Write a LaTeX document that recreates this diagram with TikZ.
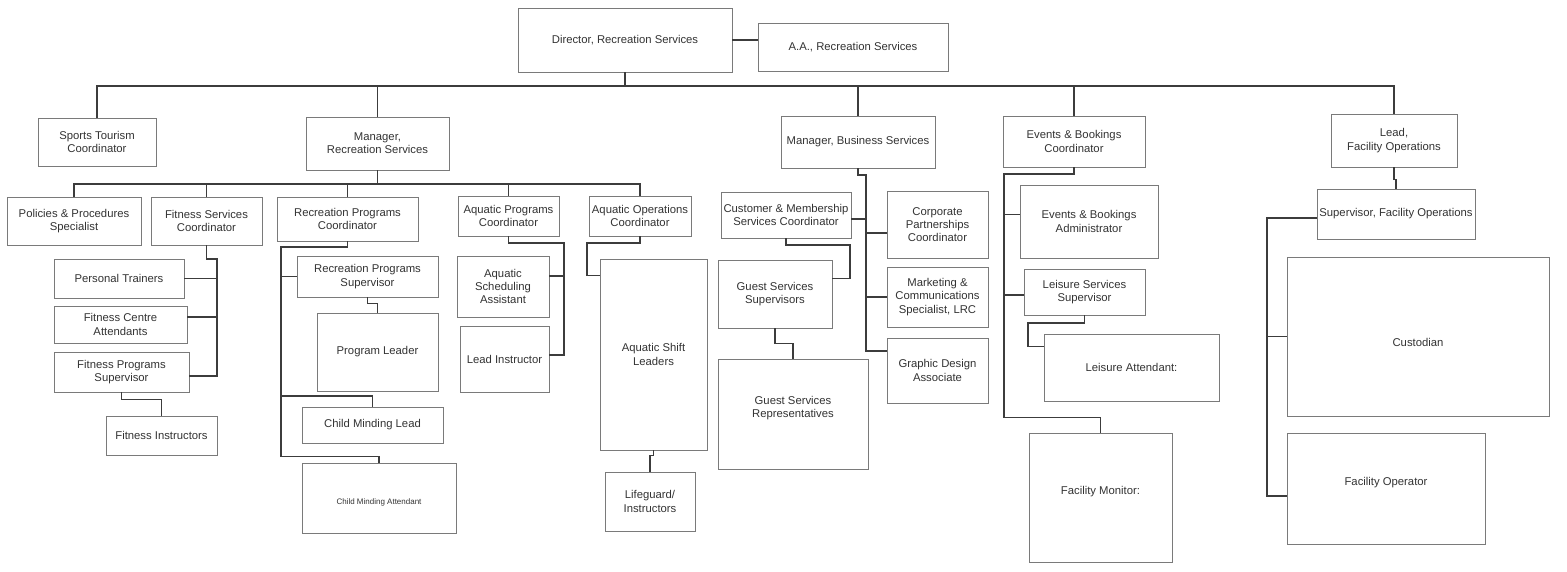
\documentclass[tikz,border=0pt]{standalone}
\usepackage{fontspec}
\setmainfont{Liberation Sans}
\usetikzlibrary{calc}

\definecolor{wirec}{HTML}{3C3C3C}
\definecolor{framec}{HTML}{7A7A7A}
\definecolor{inkc}{HTML}{333333}

\tikzset{
  box/.style={draw=framec, line width=0.9pt, fill=white, inner sep=0pt,
    align=center, text=inkc, font=\fontsize{11.3}{13.3}\selectfont},
  wire/.style={draw=wirec, line width=1.3pt, line cap=rect},
  tinytext/.style={font=\fontsize{8}{9.5}\selectfont}
}

% \orgbox[options]{name}{x1}{y1}{x2}{y2}{text}  -- box given by its corners
\newcommand\orgbox[7][]{%
  \node[box, minimum width={#5pt-#3pt}, minimum height={#6pt-#4pt}, #1]
    (#2) at ({(#3+#5)/2},{(#4+#6)/2}) {#7};}

\begin{document}
\begin{tikzpicture}[x=1pt, y=-1pt]
\useasboundingbox[fill=white] (0,0) rectangle (1567,572);

% ---------- top levels ----------
\orgbox{dir}{518}{8}{732}{72}{Director, Recreation Services}
\orgbox{aa}{758}{23}{948}{71}{A.A., Recreation Services}

\orgbox{sports}{38}{118}{156}{166}{Sports Tourism\\Coordinator}
\orgbox{mgrrec}{306}{117}{449}{170}{Manager,\\Recreation Services}
\orgbox{mgrbus}{781}{116}{935}{168}{Manager, Business Services}
\orgbox{evc}{1003}{116}{1145}{167}{Events \& Bookings\\Coordinator}
\orgbox{lead}{1331}{114}{1457}{167}{Lead,\\Facility Operations}

% ---------- recreation services ----------
\orgbox{pps}{7}{197}{141}{245}{Policies \& Procedures\\Specialist}
\orgbox{fsc}{151}{197}{262}{245}{Fitness Services\\Coordinator}
\orgbox{rpc}{277}{197}{418}{241}{Recreation Programs\\Coordinator}
\orgbox{apc}{458}{196}{559}{236}{Aquatic Programs\\Coordinator}
\orgbox{aoc}{589}{196}{691}{236}{Aquatic Operations\\Coordinator}

\orgbox{ptr}{54}{259}{184}{298}{Personal Trainers}
\orgbox{fca}{54}{306}{187}{343}{Fitness Centre\\Attendants}
\orgbox{fps}{54}{352}{189}{392}{Fitness Programs\\Supervisor}
\orgbox{fin}{106}{416}{217}{455}{Fitness Instructors}

\orgbox{rps}{297}{256}{438}{297}{Recreation Programs\\Supervisor}
\orgbox{pl}{317}{313}{438}{391}{Program Leader}
\orgbox{cml}{302}{407}{443}{443}{Child Minding Lead}
\orgbox[tinytext, text height=13pt, text depth=0pt]{cma}{302}{463}{456}{533}{Child Minding Attendant}

\orgbox{asa}{457}{256}{549}{317}{Aquatic\\Scheduling\\Assistant}
\orgbox{li}{460}{326}{549}{392}{Lead Instructor}

\orgbox{asl}{600}{259}{707}{450}{Aquatic Shift\\Leaders}
\orgbox{lg}{605}{472}{695}{531}{Lifeguard/\\Instructors}

% ---------- business services ----------
\orgbox{cmsc}{721}{192}{851}{238}{Customer \& Membership\\Services Coordinator}
\orgbox{gss}{718}{260}{832}{328}{Guest Services\\Supervisors}
\orgbox[text height=8pt, text depth=0.3pt]{gsr}{718}{359}{868}{469}{Guest Services\\Representatives}

\orgbox{cpc}{887}{191}{988}{258}{Corporate\\Partnerships\\Coordinator}
\orgbox{mcs}{887}{267}{988}{327}{Marketing \&\\Communications\\Specialist, LRC}
\orgbox{gda}{887}{338}{988}{403}{Graphic Design\\Associate}

% ---------- events & bookings ----------
\orgbox{eba}{1020}{185}{1158}{258}{Events \& Bookings\\Administrator}
\orgbox{lss}{1024}{269}{1145}{315}{Leisure Services\\Supervisor}
\orgbox{la}{1044}{334}{1219}{401}{Leisure Attendant:}
\orgbox[text height=8pt, text depth=14pt]{fm}{1029}{433}{1172}{562}{Facility Monitor:}

% ---------- facility operations ----------
\orgbox{sfo}{1317}{189}{1475}{239}{Supervisor, Facility Operations}
\orgbox[text height=20pt, text depth=0pt]{cus}{1287}{257}{1549}{416}{Custodian}
\orgbox[text height=8pt, text depth=14pt]{fop}{1287}{433}{1485}{544}{Facility Operator}

% ---------- director level ----------
\draw[wire] (dir.east) -- (dir.east -| aa.west);
\coordinate (topbus) at (0,86);
\draw[wire] (sports.north) |- (lead.north |- topbus) -- (lead.north);
\draw[wire] (dir.south) -- (dir.south |- topbus);
\draw[wire] (mgrrec.north) -- (mgrrec.north |- topbus);
\draw[wire] (mgrbus.north) -- (mgrbus.north |- topbus);
\draw[wire] (evc.north) -- (evc.north |- topbus);

% ---------- manager, recreation services ----------
\coordinate (recbus) at (0,184);
\draw[wire] (pps.north) |- (aoc.north |- recbus) -- (aoc.north);
\draw[wire] (mgrrec.south) -- (mgrrec.south |- recbus);
\draw[wire] (fsc.north) -- (fsc.north |- recbus);
\draw[wire] (rpc.north) -- (rpc.north |- recbus);
\draw[wire] (apc.north) -- (apc.north |- recbus);

% fitness services
\coordinate (fsp) at (217,259);
\path ([yshift=-4pt]fps.east) coordinate (fps-e);
\path ([yshift=7.5pt]fca.east) coordinate (fca-e);
\draw[wire] (fsc.south) |- (fsp) |- (fps-e);
\draw[wire] (ptr.east) -- (ptr.east -| fsp);
\draw[wire] (fca-e) -- (fca-e -| fsp);
\draw[wire] (fps.south) -- ++(0,7) -| (fin.north);

% recreation programs
\coordinate (rsp) at (281,247);
\draw[wire] (rpc.south) |- (rsp) |- ($(cma.north)+(0,-6)$) -- (cma.north);
\draw[wire] (rps.west) -- (rps.west -| rsp);
\draw[wire] (rps.south) -- ++(0,6) -| (pl.north);
\draw[wire] (rsp |- 0,396) -| (cml.north);

% aquatic programs
\coordinate (asp) at (564,243);
\path ([yshift=4pt]li.east) coordinate (li-e);
\path ([yshift=10.5pt]asa.east) coordinate (asa-e);
\draw[wire] (apc.south) |- (asp) |- (li-e);
\draw[wire] (asa-e) -- (asa-e -| asp);

% aquatic operations
\coordinate (osp) at (587,243);
\path ([yshift=-17pt]asl.north west) coordinate (asl-w);
\draw[wire] (aoc.south) |- (osp) |- (asl-w);
\draw[wire] (asl.south) -- ++(0,5) -| (lg.north);

% ---------- manager, business services ----------
\coordinate (bsp) at (866,175);
\path ([yshift=19.5pt]gda.west) coordinate (gda-w);
\path ([yshift=-4pt]cmsc.east) coordinate (cmsc-e);
\path ([yshift=-8.5pt]cpc.west) coordinate (cpc-w);
\draw[wire] (mgrbus.south) |- (bsp) |- (gda-w);
\draw[wire] (cmsc-e) -- (cmsc-e -| bsp);
\draw[wire] (cpc-w) -- (cpc-w -| bsp);
\draw[wire] (mcs.west) -- (mcs.west -| bsp);

\coordinate (csp) at (850,245);
\path ([yshift=-19pt]gss.north east) coordinate (gss-e);
\draw[wire] (cmsc.south) |- (csp) |- (gss-e);
\draw[wire] (gss.south) -- ++(0,15) -| (gsr.north);

% ---------- events & bookings ----------
\coordinate (esp) at (1004,174);
\path ([yshift=7pt]eba.west) coordinate (eba-w);
\path ([yshift=-3pt]lss.west) coordinate (lss-w);
\draw[wire] (evc.south) |- (esp) |- ($(fm.north)+(0,-15)$) -- (fm.north);
\draw[wire] (eba-w) -- (eba-w -| esp);
\draw[wire] (lss-w) -- (lss-w -| esp);

\coordinate (lsp) at (1028,323);
\path ([yshift=-13pt]la.north west) coordinate (la-w);
\draw[wire] (lss.south) |- (lsp) |- (la-w);

% ---------- facility operations ----------
\draw[wire] (lead.south) -- ++(0,12) -| (sfo.north);
\coordinate (ssp) at (1267,0);
\path ([yshift=-4pt]sfo.west) coordinate (sfo-w);
\path ([yshift=-7.5pt]fop.west) coordinate (fop-w);
\draw[wire] (sfo-w) -| (fop-w -| ssp) -- (fop-w);
\draw[wire] (cus.west) -- (cus.west -| ssp);
\end{tikzpicture}
\end{document}
